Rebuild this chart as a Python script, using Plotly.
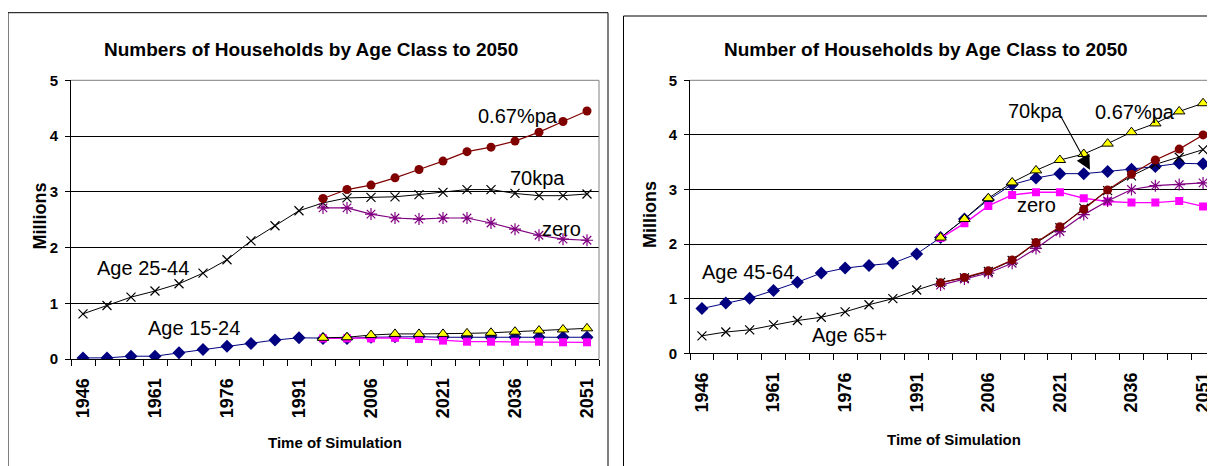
import plotly.graph_objects as go

# ---------------- data ----------------
years = list(range(1946, 2052, 5))          # 22 points
proj_years = years[10:]                      # projections from 1996
tick_years = [1946, 1961, 1976, 1991, 2006, 2021, 2036, 2051]
tick_labels = [str(y) for y in tick_years]

# Left chart: Age 15-24 and Age 25-44
age15_24_70kpa = [0.02, 0.02, 0.05, 0.05, 0.11, 0.17, 0.23, 0.28, 0.34, 0.38, 0.37,
                  0.37, 0.39, 0.40, 0.40, 0.39, 0.39, 0.39, 0.39, 0.39, 0.39, 0.39]
age15_24_zero = [0.37, 0.37, 0.37, 0.38, 0.36, 0.33, 0.31, 0.31, 0.31, 0.31, 0.30, 0.30]
age15_24_067 = [0.38, 0.39, 0.43, 0.45, 0.45, 0.45, 0.46, 0.47, 0.49, 0.51, 0.53, 0.55]
age25_44_70kpa = [0.81, 0.96, 1.11, 1.22, 1.35, 1.54, 1.78, 2.12, 2.39, 2.66, 2.80,
                  2.89, 2.90, 2.91, 2.95, 2.99, 3.04, 3.04, 2.97, 2.93, 2.93, 2.96]
age25_44_zero = [2.71, 2.71, 2.60, 2.53, 2.51, 2.53, 2.53, 2.44, 2.33, 2.22, 2.15, 2.13]
age25_44_067 = [2.88, 3.04, 3.12, 3.25, 3.40, 3.55, 3.72, 3.80, 3.91, 4.07, 4.26, 4.45]

# Right chart: Age 45-64 and Age 65+
age45_64_70kpa = [0.82, 0.92, 1.01, 1.15, 1.30, 1.47, 1.56, 1.61, 1.65, 1.82, 2.12,
                  2.46, 2.81, 3.09, 3.21, 3.29, 3.29, 3.33, 3.37, 3.42, 3.48, 3.47]
age45_64_zero = [2.11, 2.38, 2.70, 2.90, 2.95, 2.95, 2.84, 2.78, 2.76, 2.76, 2.79, 2.69]
age45_64_067 = [2.12, 2.46, 2.84, 3.13, 3.35, 3.54, 3.65, 3.84, 4.05, 4.21, 4.43, 4.58]
age65_70kpa = [0.32, 0.39, 0.43, 0.52, 0.60, 0.66, 0.76, 0.89, 1.00, 1.16, 1.30,
               1.38, 1.50, 1.70, 2.02, 2.30, 2.66, 2.98, 3.25, 3.46, 3.59, 3.73]
age65_zero = [1.25, 1.36, 1.47, 1.65, 1.92, 2.23, 2.54, 2.79, 3.00, 3.07, 3.09, 3.12]
age65_067 = [1.29, 1.39, 1.51, 1.71, 2.03, 2.32, 2.64, 2.99, 3.28, 3.54, 3.74, 4.00]

# ---------------- styling ----------------
OFF = 8                      # page body margin of the html page
W, H = 1215 - OFF, 466 - OFF
FONT = "Liberation Sans, Arial, sans-serif"


def px(x):
    """page pixel x -> paper fraction"""
    return (x - OFF) / W


def py(y):
    """page pixel y -> paper fraction"""
    return 1 - (y - OFF) / H


NAVY, MAGENTA, YELLOW, PURPLE, DARKRED = "#000080", "#FF00FF", "#FFFF00", "#800080", "#800000"

fig = go.Figure()


def add_group(xa, ya, s_navy, s_mag, s_yel, s_x, s_pur, s_red):
    fig.add_trace(go.Scatter(x=years, y=s_navy, mode="lines+markers", xaxis=xa, yaxis=ya,
                             line=dict(color=NAVY, width=1),
                             marker=dict(symbol="diamond", size=10, color=NAVY)))
    fig.add_trace(go.Scatter(x=proj_years, y=s_mag, mode="lines+markers", xaxis=xa, yaxis=ya,
                             line=dict(color=MAGENTA, width=1.3),
                             marker=dict(symbol="square", size=8, color=MAGENTA)))
    fig.add_trace(go.Scatter(x=proj_years, y=s_yel, mode="lines+markers", xaxis=xa, yaxis=ya,
                             line=dict(color="black", width=1),
                             marker=dict(symbol="triangle-up", size=10, color=YELLOW,
                                         line=dict(color="black", width=1))))
    fig.add_trace(go.Scatter(x=years, y=s_x, mode="lines+markers", xaxis=xa, yaxis=ya,
                             line=dict(color="black", width=1),
                             marker=dict(symbol="x-thin-open", size=9, color="black",
                                         line=dict(color="black", width=1.2))))
    fig.add_trace(go.Scatter(x=proj_years, y=s_pur, mode="lines+markers", xaxis=xa, yaxis=ya,
                             line=dict(color=PURPLE, width=1.2),
                             marker=dict(symbol="asterisk-open", size=10, color=PURPLE,
                                         line=dict(color=PURPLE, width=1.2))))
    fig.add_trace(go.Scatter(x=proj_years, y=s_red, mode="lines+markers", xaxis=xa, yaxis=ya,
                             line=dict(color=DARKRED, width=1.2),
                             marker=dict(symbol="circle", size=9, color=DARKRED)))


add_group("x", "y", age15_24_70kpa, age15_24_zero, age15_24_067,
          age25_44_70kpa, age25_44_zero, age25_44_067)
add_group("x2", "y2", age45_64_70kpa, age45_64_zero, age45_64_067,
          age65_70kpa, age65_zero, age65_067)

boundaries = [years[0] - 2.5 + 5 * k for k in range(len(years) + 1)]


def xaxis_cfg(domain):
    return dict(domain=domain, range=[years[0] - 2.5, years[-1] + 2.5],
                automargin=False,
                tickmode="array", tickvals=tick_years, ticktext=tick_labels,
                tickangle=-90, ticks="", showgrid=False, zeroline=False,
                showline=True, linecolor="black", linewidth=1,
                ticklabelstandoff=11,
                tickfont=dict(family=FONT, size=18, color="black", weight="bold"),
                minor=dict(tickmode="array", tickvals=boundaries, ticks="outside",
                           ticklen=6, tickcolor="black", tickwidth=1, showgrid=False))


def yaxis_cfg(domain, anchor):
    return dict(domain=domain, range=[0, 5], tickmode="linear", tick0=0, dtick=1,
                automargin=False,
                anchor=anchor, showgrid=True, gridcolor="black", gridwidth=1,
                zeroline=False, showline=True, linecolor="black", linewidth=1,
                ticks="outside", ticklen=5, tickcolor="black",
                ticklabelstandoff=4,
                tickfont=dict(family=FONT, size=15, color="black", weight="bold"))


L_x0, L_x1, L_top, L_bot = 71, 599, 80.3, 359
R_x0, R_x1, R_top, R_bot = 690, 1215, 80.3, 353.3

fig.update_layout(
    width=W, height=H, margin=dict(l=0, r=0, t=0, b=0, autoexpand=False),
    paper_bgcolor="white", plot_bgcolor="white", showlegend=False,
    xaxis=xaxis_cfg([px(L_x0), px(L_x1)]) | dict(anchor="y"),
    yaxis=yaxis_cfg([py(L_bot), py(L_top)], "x"),
    xaxis2=xaxis_cfg([px(R_x0), min(1.0, px(R_x1))]) | dict(anchor="y2"),
    yaxis2=yaxis_cfg([py(R_bot), py(R_top)], "x2"),
)

shapes = [
    # outer chart boxes
    dict(type="rect", xref="paper", yref="paper", x0=px(8), x1=px(608), y0=py(12.7), y1=-0.05,
         line=dict(color="black", width=1), layer="below"),
    dict(type="rect", xref="paper", yref="paper", x0=px(623.5), x1=1.05, y0=py(16), y1=-0.05,
         line=dict(color="black", width=1), layer="below"),
    # gray plot-area borders (top / right)
    dict(type="line", xref="paper", yref="paper", x0=px(L_x0), x1=px(L_x1), y0=py(L_top), y1=py(L_top),
         line=dict(color="#808080", width=1), layer="above"),
    dict(type="line", xref="paper", yref="paper", x0=px(L_x1), x1=px(L_x1), y0=py(L_top), y1=py(L_bot),
         line=dict(color="#808080", width=1), layer="above"),
    dict(type="line", xref="paper", yref="paper", x0=px(R_x0), x1=1.0, y0=py(R_top), y1=py(R_top),
         line=dict(color="#808080", width=1), layer="above"),
]
fig.update_layout(shapes=shapes)

ann = []


def txt(text, x, y, size=20, bold=False, angle=0):
    ann.append(dict(text=text, xref="paper", yref="paper", x=px(x), y=py(y),
                    xanchor="center", yanchor="middle", showarrow=False, textangle=angle,
                    font=dict(family=FONT, size=size, color="black",
                              weight="bold" if bold else "normal")))


# titles
txt("Numbers of Households by Age Class to 2050", 311, 49, size=19, bold=True)
txt("Number of Households by Age Class to 2050", 925.5, 50, size=19, bold=True)
# axis titles
txt("Time of Simulation", 335, 442, size=15, bold=True)
txt("Time of Simulation", 953.5, 439.5, size=15, bold=True)
txt("Millions", 40, 216.5, size=18, bold=True, angle=-90)
txt("Millions", 649.5, 214.5, size=18, bold=True, angle=-90)
# left labels
txt("0.67%pa", 517.5, 116)
txt("70kpa", 537.5, 178)
txt("zero", 561.5, 229)
txt("Age 25-44", 143, 268)
txt("Age 15-24", 194, 328)
# right labels
txt("70kpa", 1035, 111)
txt("0.67%pa", 1135, 112)
txt("zero", 1036, 205)
txt("Age 45-64", 748, 272)
txt("Age 65+", 849.5, 335)

# arrow from the "70kpa" label to the 70kpa line (right chart)
ann.append(dict(text="", xref="x2", yref="y2", x=2027.3, y=3.36,
                ax=-30, ay=-55, axref="pixel", ayref="pixel",
                showarrow=True, arrowhead=2, arrowsize=2.6, arrowwidth=1.1,
                arrowcolor="black"))

fig.update_layout(annotations=ann)

fig.write_html("out.html")
